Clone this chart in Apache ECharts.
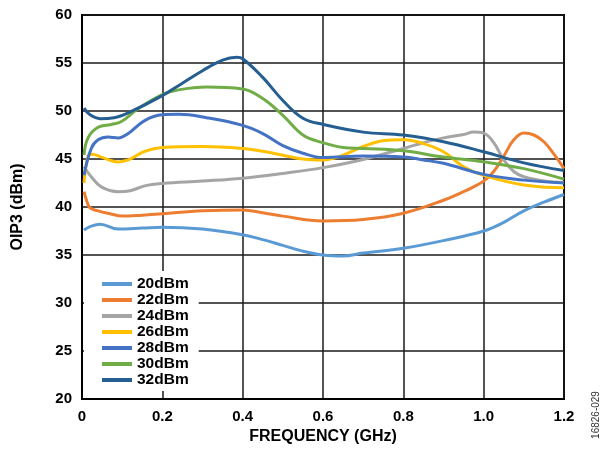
<!DOCTYPE html>
<html><head><meta charset="utf-8">
<script src="https://cdn.jsdelivr.net/npm/echarts@6/dist/echarts.min.js"></script>
<style>html,body{margin:0;padding:0;background:#fff}#c{width:602px;height:450px}</style>
</head><body><div id="c"></div>
<script>
const seriesNames = ['20dBm','22dBm','24dBm','26dBm','28dBm','30dBm','32dBm'];
const seriesColors = ['#5B9BD5','#ED7D31','#A5A5A5','#FFC000','#4472C4','#70AD47','#255E91'];
const xTicks = [0, 0.2, 0.4, 0.6, 0.8, 1.0, 1.2];
const yTicks = [20, 25, 30, 35, 40, 45, 50, 55, 60];

const f20 = [0.005,0.02,0.045,0.09,0.15,0.2,0.3,0.4,0.45,0.5,0.55,0.6,0.65,0.7,0.8,0.9,1.0,1.05,1.1,1.15,1.2];
const v20 = [37.6,37.95,38.2,37.7,37.8,37.9,37.7,37.1,36.6,36.0,35.4,35.0,34.9,35.2,35.7,36.5,37.5,38.4,39.6,40.5,41.3];
const f22 = [0.005,0.012,0.02,0.04,0.07,0.1,0.15,0.2,0.3,0.4,0.45,0.5,0.6,0.7,0.8,0.9,0.95,0.975,1.0,1.025,1.05,1.075,1.1,1.125,1.15,1.175,1.2];
const v22 = [41.6,40.6,39.9,39.6,39.3,39.05,39.15,39.3,39.6,39.7,39.4,39.05,38.55,38.7,39.35,40.7,41.6,42.1,42.7,43.7,45.3,47.0,47.7,47.5,46.8,45.5,44.0];
const f24 = [0.005,0.023,0.048,0.09,0.12,0.156,0.2,0.3,0.4,0.5,0.6,0.7,0.8,0.85,0.9,0.95,0.975,1.0,1.025,1.05,1.075,1.1,1.15,1.2];
const v24 = [44.2,43.15,42.1,41.6,41.7,42.2,42.45,42.7,43.0,43.5,44.1,44.95,46.1,46.7,47.2,47.55,47.8,47.7,46.7,44.9,43.7,43.15,42.7,42.55];
const f26 = [0.005,0.015,0.025,0.048,0.09,0.115,0.156,0.2,0.3,0.4,0.45,0.5,0.55,0.6,0.65,0.7,0.75,0.8,0.85,0.9,0.95,1.0,1.1,1.2];
const v26 = [42.5,45.3,45.5,45.2,44.7,44.9,45.8,46.2,46.3,46.1,45.8,45.4,45.0,44.9,45.4,46.3,46.9,47.0,46.6,45.75,44.2,43.3,42.3,42.0];
const f28 = [0.005,0.023,0.04,0.065,0.09,0.115,0.156,0.2,0.24,0.31,0.4,0.45,0.5,0.55,0.6,0.7,0.8,0.85,0.9,1.0,1.1,1.2];
const v28 = [43.3,46.1,47.0,47.3,47.2,47.65,49.0,49.6,49.65,49.3,48.5,47.65,46.4,45.6,45.15,45.3,45.2,44.9,44.55,43.4,42.8,42.5];
const f30 = [0.005,0.015,0.04,0.073,0.098,0.14,0.2,0.24,0.31,0.4,0.45,0.5,0.55,0.6,0.65,0.7,0.8,0.9,1.0,1.1,1.2];
const v30 = [45.4,47.2,48.3,48.6,48.9,50.25,51.7,52.2,52.5,52.3,51.3,49.55,47.5,46.7,46.2,46.1,45.85,45.2,44.7,44.0,42.9];
const f32 = [0.005,0.02,0.045,0.08,0.12,0.2,0.25,0.3,0.35,0.385,0.4,0.45,0.5,0.55,0.6,0.7,0.8,0.9,1.0,1.1,1.2];
const v32 = [50.3,49.6,49.2,49.3,49.9,51.6,52.9,54.2,55.3,55.6,55.45,53.5,51.1,49.25,48.6,47.8,47.5,46.8,45.75,44.6,43.8];

const freqs = [f20,f22,f24,f26,f28,f30,f32];
const vals = [v20,v22,v24,v26,v28,v30,v32];

const FONT = '"Liberation Sans", Arial, Helvetica, sans-serif';
const chart = echarts.init(document.getElementById('c'));
const series = seriesNames.map((n,i)=>({
  name: n, type: 'line', smooth: 0.4, showSymbol: false, symbol: 'none',
  lineStyle: {width: 3, color: seriesColors[i]}, itemStyle: {color: seriesColors[i]},
  data: freqs[i].map((f,j)=>[f, vals[i][j]])
}));
chart.setOption({
  animation: false,
  grid: {left: 82, right: 38, top: 15, bottom: 50, show: true, borderColor: '#000', borderWidth: 2, backgroundColor: 'transparent'},
  xAxis: {
    type: 'value', min: xTicks[0], max: xTicks[xTicks.length-1], interval: 0.2,
    name: 'FREQUENCY (GHz)', nameLocation: 'middle', nameGap: 30,
    nameTextStyle: {fontFamily: FONT, fontWeight: 'bold', fontSize: 16, color: '#000'},
    axisLine: {lineStyle: {color: '#000', width: 2}},
    axisTick: {show: false},
    axisLabel: {fontFamily: FONT, fontWeight: 'bold', fontSize: 15, color: '#000', margin: 10,
      formatter: v => v === 0 ? '0' : v.toFixed(1)},
    splitLine: {show: true, lineStyle: {color: '#1a1a1a', width: 1.5}}
  },
  yAxis: {
    type: 'value', min: yTicks[0], max: yTicks[yTicks.length-1], interval: 5,
    name: 'OIP3 (dBm)', nameLocation: 'middle', nameGap: 56,
    nameTextStyle: {fontFamily: FONT, fontWeight: 'bold', fontSize: 16, color: '#000'},
    axisLine: {show: true, lineStyle: {color: '#000', width: 2}},
    axisTick: {show: false},
    axisLabel: {fontFamily: FONT, fontWeight: 'bold', fontSize: 15, color: '#000', margin: 10},
    splitLine: {show: true, lineStyle: {color: '#1a1a1a', width: 1.5}}
  },
  legend: {
    orient: 'vertical', left: 84, top: 271, backgroundColor: '#fff',
    padding: [5, 10, 3, 18], itemGap: 0, itemWidth: 30, itemHeight: 4, itemTextGap: 11,
    icon: 'rect',
    textStyle: {fontFamily: FONT, fontWeight: 'bold', fontSize: 15.5, color: '#000', lineHeight: 16, height: 16},
    data: seriesNames
  },
  graphic: [{
    type: 'text', x: 596, y: 415, rotation: Math.PI/2,
    style: {text: '16826-029', fontFamily: FONT, fontSize: 10, fill: '#333', align: 'center', verticalAlign: 'middle'}
  }],
  series: series
});
</script></body></html>
